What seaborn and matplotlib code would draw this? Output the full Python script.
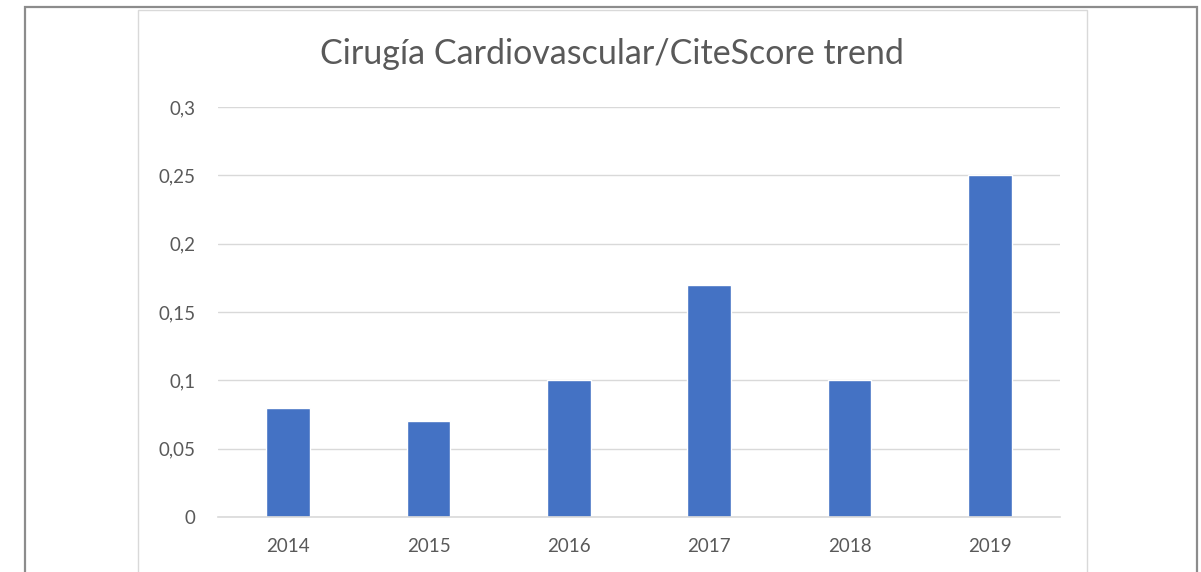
import matplotlib
matplotlib.use("Agg")
import matplotlib.pyplot as plt
import seaborn as sns
import pandas as pd
from matplotlib.patches import Rectangle

# datos
years = ["2014", "2015", "2016", "2017", "2018", "2019"]
citescore = [0.08, 0.07, 0.10, 0.17, 0.10, 0.25]
y_ticks = [0, 0.05, 0.1, 0.15, 0.2, 0.25, 0.3]
y_tick_labels = ["0", "0,05", "0,1", "0,15", "0,2", "0,25", "0,3"]
title = "Cirugía Cardiovascular/CiteScore trend"

sns.set_style("white")
plt.rcParams["font.family"] = ["Lato", "DejaVu Sans"]

W, H = 1201, 572
fig = plt.figure(figsize=(W / 100, H / 100), dpi=100)
ax = fig.add_axes([218 / W, 55 / H, (1060 - 218) / W, 410 / H])

df = pd.DataFrame({"year": years, "value": citescore})
sns.barplot(data=df, x="year", y="value", color="#4472C4", width=0.31,
            saturation=1, ax=ax)

ax.set_ylim(0, 0.3)
ax.set_xlim(-0.5, len(years) - 0.5)
ax.set_yticks(y_ticks)
ax.set_yticklabels(y_tick_labels)
ax.set_xlabel("")
ax.set_ylabel("")
ax.yaxis.grid(True, color="#d9d9d9", linewidth=1)
ax.set_axisbelow(True)
for s in ["top", "right", "left"]:
    ax.spines[s].set_visible(False)
ax.spines["bottom"].set_color("#d9d9d9")
ax.spines["bottom"].set_linewidth(1.2)
ax.tick_params(axis="both", length=0, colors="#595959", labelsize=13.5)
ax.tick_params(axis="y", pad=16)
ax.tick_params(axis="x", pad=15)

fig.text(612 / W, 1 - 54 / H, title, ha="center", va="center",
         fontsize=24.5, color="#595959")

# marcos
fig.add_artist(Rectangle((25 / W, -0.1), (1197 - 25) / W, 1.1 - 7 / H,
                         transform=fig.transFigure, fill=False,
                         edgecolor="#8c8c8c", linewidth=1.6))
fig.add_artist(Rectangle((138 / W, -0.1), (1087 - 138) / W, 1.1 - 10 / H,
                         transform=fig.transFigure, fill=False,
                         edgecolor="#d9d9d9", linewidth=1))

fig.savefig("out.png", dpi=100)
